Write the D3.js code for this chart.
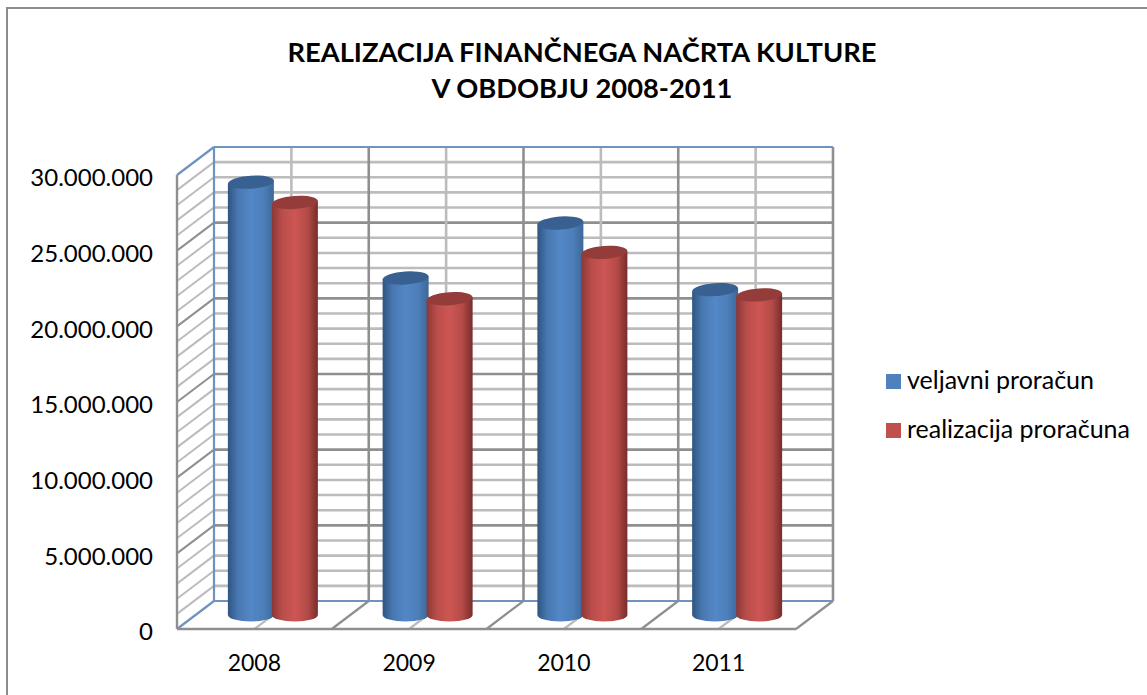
<!DOCTYPE html>
<meta charset="utf-8">
<style>
  html, body { margin: 0; background: #fff; }
  svg { display: block; }
  text { font-family: Lato, "Open Sans", sans-serif; fill: #000; }
</style>

<script src="https://d3js.org/d3.v7.min.js"></script>

<div id="chart"></div>

<script>
// Values
var years = ["2008", "2009", "2010", "2011"];
var seriesNames = ["veljavni proračun", "realizacija proračuna"];
var veljavni = [28600000, 22270000, 25900000, 21500000];
var realizacija = [27260000, 20900000, 23960000, 21150000];
var titleLines = ["REALIZACIJA FINANČNEGA NAČRTA KULTURE", "V OBDOBJU 2008-2011"];

var width = 1147, height = 695;
// the 3D box: front corner plus depth offset of the back wall
var left = 177, right = 796, bottom = 629, top3d = 175;
var dx = 37, dy = -28;

var svg = d3.select("#chart").append("svg")
    .attr("width", width)
    .attr("height", height);

var x = d3.scaleBand().domain(years).range([left, right]);
var x1 = d3.scaleBand().domain([0, 1]).range([-44, 44]);
var y = d3.scaleLinear().domain([0, 30000000]).range([bottom, top3d]);
var color = ["#4f81bd", "#c0504d"];
var topColor = ["#386090", "#943c3a"];

var nf = d3.formatLocale({decimal: ",", thousands: ".", grouping: [3], currency: ["", ""]}).format(",d");

// Gradients for the cylinders
var defs = svg.append("defs");
[["grad0", "#2f5580", "#5387c6", "#3d6899"], ["grad1", "#8a3836", "#cd5653", "#772d2b"]].forEach(function(g) {
  var lg = defs.append("linearGradient").attr("id", g[0]);
  lg.append("stop").attr("offset", "0%").attr("stop-color", g[1]);
  lg.append("stop").attr("offset", "22%").attr("stop-color", d3.interpolateRgb(g[1], g[2])(0.7));
  lg.append("stop").attr("offset", "50%").attr("stop-color", g[2]);
  lg.append("stop").attr("offset", "78%").attr("stop-color", d3.interpolateRgb(g[2], g[3])(0.3));
  lg.append("stop").attr("offset", "100%").attr("stop-color", g[3]);
});

// Chart frame, only top and left are inside the crop
svg.append("path")
    .attr("d", `M7,${height}V8H${width}`)
    .attr("fill", "none")
    .attr("stroke", "#8c8c8c")
    .attr("stroke-width", 2);

function line(g, x1p, y1p, x2p, y2p, stroke, w) {
  g.append("line")
      .attr("x1", x1p).attr("y1", y1p)
      .attr("x2", x2p).attr("y2", y2p)
      .attr("stroke", stroke)
      .attr("stroke-width", w);
}

var grid = svg.append("g");
var minor = "#bcbcbc", major = "#8f8f8f", edge = "#6f92c0";

// Horizontal grid on the back wall and the left wall
d3.range(1000000, 30000001, 1000000).forEach(function(v) {
  var isMajor = v % 5000000 === 0;
  var c = isMajor ? major : minor;
  if (v < 30000000) line(grid, left + dx, y(v) + dy, right + dx, y(v) + dy, c, 2.6);
  if (v < 30000000) line(grid, left, y(v), left + dx, y(v) + dy, c, 2);
});

// Vertical grid on the back wall and the matching floor lines
var band = x.bandwidth();
d3.range(0, 9).forEach(function(i) {
  var px = left + i * band / 2;
  var isMajor = i % 2 === 0;
  if (i > 0) {
    line(grid, px + dx, y(30000000) + dy, px + dx, bottom + dy, isMajor ? major : minor, 2.6);
    line(grid, px, bottom, px + dx, bottom + dy, isMajor ? major : minor, 2.2);
  }
});

// Box edges
line(grid, left + dx, top3d + dy, right + dx, top3d + dy, edge, 2.2);
line(grid, left + dx, top3d + dy, left + dx, bottom + dy, edge, 2.2);
line(grid, left + dx, bottom + dy, right + dx, bottom + dy, edge, 2.2);
line(grid, left, top3d, left + dx, top3d + dy, edge, 2.2);
line(grid, left, bottom, left + dx, bottom + dy, edge, 2.2);
line(grid, left, top3d, left, bottom, major, 2.4);
line(grid, left, bottom, right, bottom, major, 2.6);

// Cylinders
var rx = 23, ry = 6.5;
var baseY = bottom + dy / 2;
var rows = [veljavni, realizacija];
rows.forEach(function(values, s) {
  var g = svg.append("g").selectAll("g")
    .data(years.map(function(yr, i) { return {year: yr, value: values[i]}; }))
    .join("g")
      .attr("transform", function(d) {
        return `translate(${x(d.year) + band / 2 + dx / 2 + x1(s) + x1.bandwidth() / 2},0)`;
      });

  g.append("path")
      .attr("fill", `url(#grad${s})`)
      .attr("d", function(d) {
        var t = y(d.value) + dy / 2;
        return `M${-rx},${t + 1.5}V${baseY}A${rx},${ry} 0 0 0 ${rx},${baseY}V${t - 1.5}Z`;
      });

  g.append("ellipse")
      .attr("rx", rx)
      .attr("ry", ry)
      .attr("fill", topColor[s])
      .attr("transform", function(d) {
        return `translate(0,${y(d.value) + dy / 2}) rotate(-4)`;
      });
});

// Value axis
svg.append("g")
    .attr("transform", `translate(153,3)`)
    .call(d3.axisLeft(y).tickValues(d3.range(0, 30000001, 5000000)).tickSize(0).tickPadding(0).tickFormat(nf))
    .call(function(g) { g.select(".domain").remove(); })
    .selectAll("text")
    .attr("font-size", 24)
    .attr("font-family", "Lato")
    .attr("fill", "#000");

// Category axis
svg.append("g")
    .attr("transform", `translate(0,655)`)
    .call(d3.axisBottom(x).tickSize(0).tickPadding(0))
    .call(function(g) { g.select(".domain").remove(); })
    .selectAll("text")
    .attr("font-size", 23)
    .attr("font-family", "Lato")
    .attr("fill", "#000");

// Title
svg.append("g").selectAll("text")
  .data(titleLines)
  .join("text")
    .attr("x", 582)
    .attr("y", function(d, i) { return 62 + i * 36; })
    .attr("text-anchor", "middle")
    .attr("font-size", 27.3)
    .attr("font-weight", "bold")
    .text(function(d) { return d; });

// Legend
var legend = svg.append("g").selectAll("g")
  .data(seriesNames)
  .join("g")
    .attr("transform", function(d, i) { return `translate(886,${374 + i * 49})`; });

legend.append("rect")
    .attr("width", 15)
    .attr("height", 15)
    .attr("fill", function(d, i) { return color[i]; });

legend.append("text")
    .attr("x", 21)
    .attr("y", 15)
    .attr("font-size", 25)
    .text(function(d) { return d; });
</script>
